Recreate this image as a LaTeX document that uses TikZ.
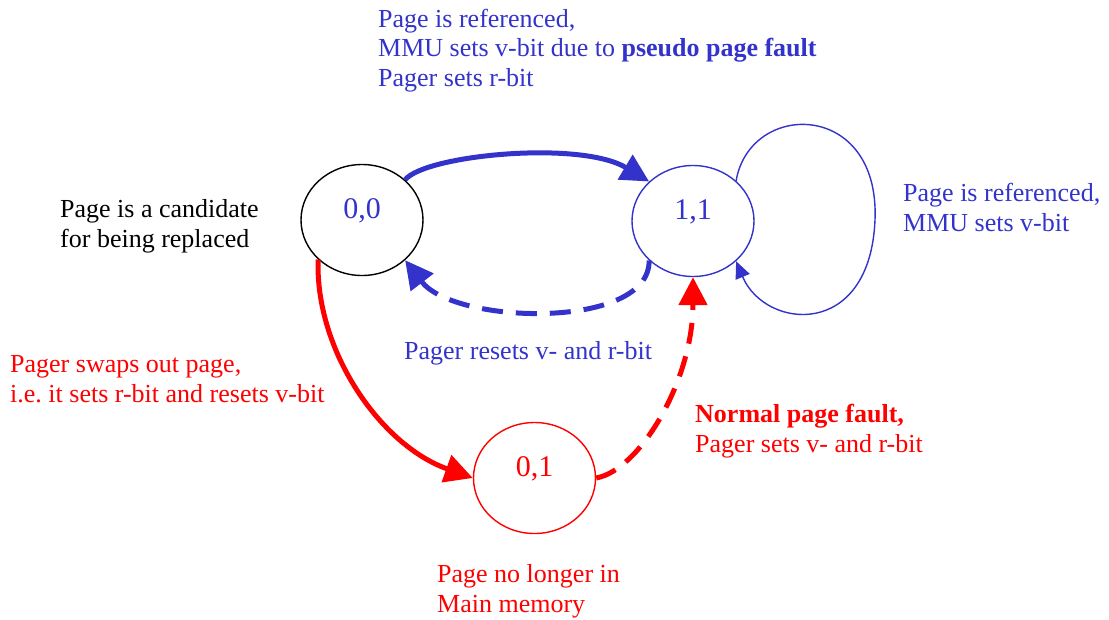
\documentclass[tikz,border=0pt]{standalone}
\usepackage{fontspec}
\setmainfont{Liberation Serif}
\usetikzlibrary{arrows.meta,shapes.geometric}
\definecolor{blueC}{RGB}{51,51,204}
\definecolor{redC}{RGB}{255,0,0}
\tikzset{
  state/.style={ellipse, draw, line width=1.4pt, minimum width=122pt, minimum height=111pt, inner sep=0pt,
    font=\fontsize{30}{34}\selectfont, text height=21pt, text depth=24pt},
  txt/.style={anchor=base west, align=left, inner sep=0pt, font=\fontsize{26}{29.5}\selectfont},
  thick arrow/.style={line width=5pt, -{Triangle[length=28pt,width=28pt]}},
  thin arrow/.style={line width=1.4pt, -{Triangle[length=17pt,width=15pt]}},
  dashpat/.style={dash pattern=on 21pt off 13pt}
}
\begin{document}
\begin{tikzpicture}[x=1pt,y=-1pt]
\useasboundingbox (0,0) rectangle (1109,619);
\node[state, draw=black, text=blueC] (n00) at (362,220) {0,0};
\node[state, draw=blueC, text=blueC] (n11) at (693,221) {1,1};
\node[state, draw=redC, text=redC] (n01) at (534.5,478) {0,1};

\draw[blueC, thick arrow] (n00.43) .. controls (425,155) and (580,140) .. (n11.138);
\draw[blueC, thick arrow, dashpat] (n11.222) .. controls (650,330) and (455,325) .. (n00.317);
\draw[redC, thick arrow] (n00.222) .. controls (315,350) and (380,445) .. (n01.west);
\draw[redC, thick arrow, dashpat] (n01.east) .. controls (640,470) and (693,380) .. (n11.south);
\draw[blueC, thin arrow] (n11.43) .. controls (750,100) and (880,100) .. (875,220) .. controls (870,340) and (765,330) .. (n11.-43);

\node[txt, text=blueC] (t1) at (378,86) {Page is referenced,\\MMU sets v-bit due to \textbf{pseudo page fault}\\Pager sets r-bit};
\node[txt, text=black] (t2) at (60,247) {Page is a candidate\\for being replaced};
\node[txt, text=blueC] (t3) at (903,231) {Page is referenced,\\MMU sets v-bit};
\node[txt, text=blueC] (t4) at (404,359) {Pager resets v- and r-bit};
\node[txt, text=redC] (t5) at (10,402) {Pager swaps out page,\\i.e.\ it sets r-bit and resets v-bit};
\node[txt, text=redC] (t6) at (695,452) {\textbf{Normal page fault,}\\Pager sets v- and r-bit};
\node[txt, text=redC] (t7) at (437,612) {Page no longer in\\Main memory};
\end{tikzpicture}
\end{document}
